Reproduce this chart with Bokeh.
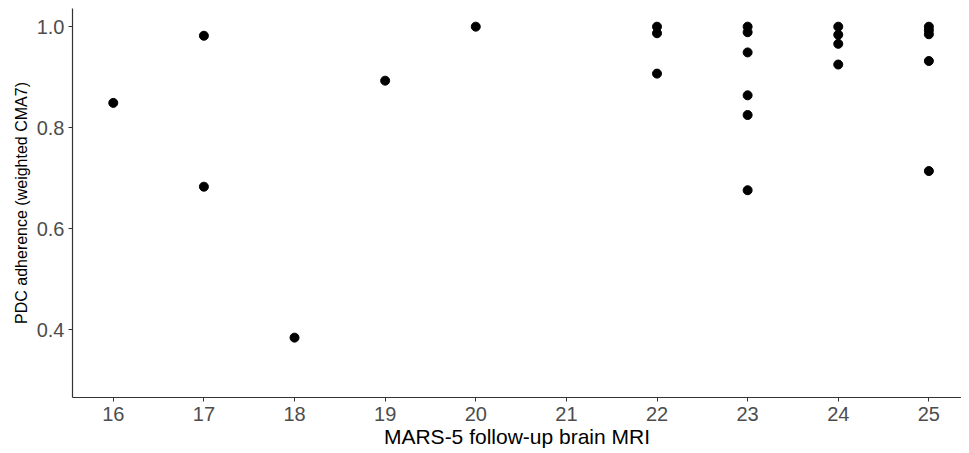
from bokeh.plotting import figure
from bokeh.models import Range1d, FixedTicker, ColumnDataSource, CustomJSTickFormatter
from bokeh.embed import file_html
from bokeh.resources import INLINE

# Data
mars5 = [16, 17, 17, 18, 19, 20,
         22, 22, 22,
         23, 23, 23, 23, 23, 23,
         24, 24, 24, 24,
         25, 25, 25, 25, 25]
pdc = [0.849, 0.982, 0.683, 0.384, 0.893, 1.0,
       1.0, 0.987, 0.907,
       1.0, 0.989, 0.949, 0.864, 0.825, 0.676,
       1.0, 0.984, 0.966, 0.925,
       1.0, 0.993, 0.985, 0.932, 0.714]
x_ticks = [16, 17, 18, 19, 20, 21, 22, 23, 24, 25]
y_ticks = [0.4, 0.6, 0.8, 1.0]

src = ColumnDataSource(dict(x=mars5, y=pdc))

p = figure(width=961, height=451, output_backend="svg", toolbar_location=None,
           x_range=Range1d(15.55, 25.36), y_range=Range1d(0.2654, 1.036),
           min_border_left=72, min_border_right=0, min_border_top=8,
           min_border_bottom=54)
p.outline_line_color = None
p.xgrid.visible = False
p.ygrid.visible = False

p.scatter("x", "y", source=src, size=9, color="black")

for ax in (p.xaxis, p.yaxis):
    ax.axis_line_color = "#333333"
    ax.axis_line_width = 1.2
    ax.major_tick_line_color = "#333333"
    ax.major_tick_out = 4
    ax.major_tick_in = 0
    ax.minor_tick_line_color = None
    ax.major_label_text_color = "#4D4D4D"
    ax.major_label_text_font = "Liberation Sans"
    ax.major_label_text_font_size = "20px"
    ax.axis_label_text_font = "Liberation Sans"
    ax.axis_label_text_font_style = "normal"
    ax.axis_label_text_color = "black"

p.xaxis.ticker = FixedTicker(ticks=x_ticks)
p.yaxis.ticker = FixedTicker(ticks=y_ticks)
p.yaxis.formatter = CustomJSTickFormatter(code="return tick.toFixed(1);")

p.xaxis.axis_label = "MARS-5 follow-up brain MRI"
p.xaxis.axis_label_text_font_size = "21px"
p.xaxis.major_label_standoff = 5
p.xaxis.axis_label_standoff = 1

p.yaxis.axis_label = "PDC adherence (weighted CMA7)"
p.yaxis.axis_label_text_font_size = "16px"
p.yaxis.major_label_standoff = 4
p.yaxis.axis_label_standoff = 4

open("out.html", "w").write(file_html(p, INLINE))
